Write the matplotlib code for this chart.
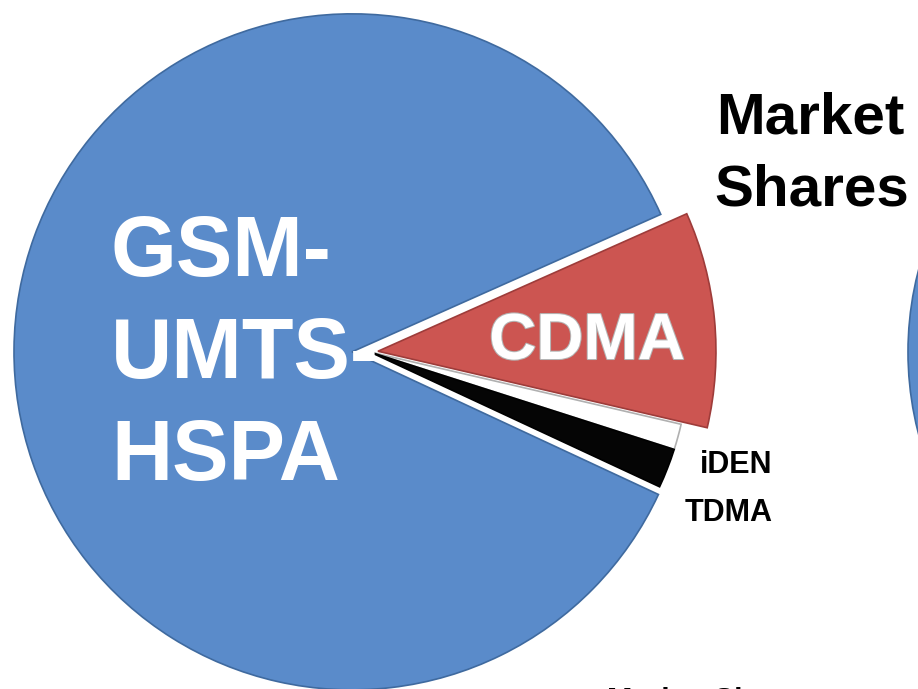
import matplotlib
matplotlib.use("Agg")
import matplotlib.pyplot as plt
import matplotlib.patheffects as pe

# ---- data ----
technologies = ["CDMA", "iDEN", "TDMA", "GSM-UMTS-HSPA"]
shares = [10.3, 1.3, 2.0, 86.4]
colors = ["#cc5551", "#ffffff", "#050505", "#5a8bca"]
explode_px = [8, 0, 0, 18]

W, H = 918, 689
fig = plt.figure(figsize=(W / 100, H / 100), dpi=100)
ax = fig.add_axes([0, 0, 1, 1])

def py(y):
    return H - y

R = 338
wedges, _ = ax.pie(shares, colors=colors, explode=explode_px, startangle=24,
                   counterclock=False, center=(370, py(352)), radius=R,
                   frame=True,
                   wedgeprops=dict(linewidth=1.2, edgecolor="none"))

edge_cols = ["#9e3c3a", "#b0b0b0", "#000000", "#3f6a9f"]
for w, ec in zip(wedges, edge_cols):
    w.set_edgecolor(ec)
for w in wedges[1:3]:
    w.set_radius(R * 0.945)

# second (cropped) pie at the right edge
ax.pie([100], colors=["#5a8bca"], startangle=90,
       center=(1233, py(352)), radius=325, frame=True,
       wedgeprops=dict(linewidth=1.2, edgecolor="#3f6a9f"))

ax.set_xlim(0, W)
ax.set_ylim(0, H)
ax.set_aspect("equal")
ax.axis("off")

font = "Liberation Sans"
# GSM label
for txt, yb in zip(["GSM-", "UMTS-", "HSPA"], [276, 378, 480]):
    ax.text(111, py(yb), txt, color="white", fontsize=61, fontweight="bold",
            family=font, ha="left", va="baseline")

# CDMA label
ax.text(587, py(359), "CDMA", color="white", fontsize=47, fontweight="bold",
        family=font, ha="center", va="baseline",
        path_effects=[pe.withStroke(linewidth=1.5, foreground="#b5b5b5")])

ax.text(700, py(473), "iDEN", color="black", fontsize=22, fontweight="bold",
        family=font, ha="left", va="baseline")
ax.text(685, py(521), "TDMA", color="black", fontsize=22, fontweight="bold",
        family=font, ha="left", va="baseline")

ax.text(716, py(133), "Market", color="black", fontsize=42, fontweight="bold",
        family=font, ha="left", va="baseline")
ax.text(714, py(205), "Shares", color="black", fontsize=42, fontweight="bold",
        family=font, ha="left", va="baseline")

# cropped caption at the bottom (cut off in the reference as well)
ax.text(607, py(687), "Market Shares", color="black", fontsize=22,
        fontweight="bold", family=font, ha="left", va="top")

fig.savefig("out.png", dpi=100)
